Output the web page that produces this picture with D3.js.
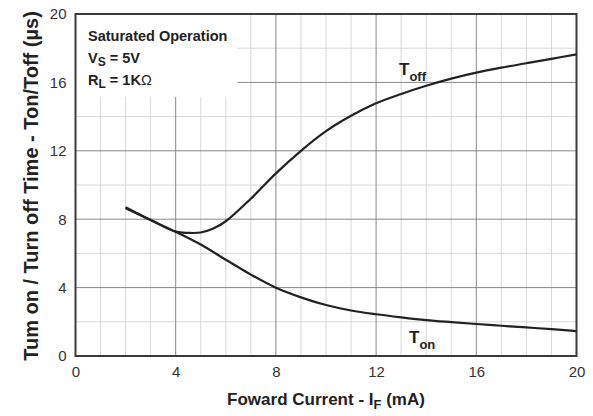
<!DOCTYPE html>
<html><head><meta charset="utf-8">
<script src="https://cdn.jsdelivr.net/npm/d3@7"></script>
<style>body{margin:0;background:#fff}svg{display:block;font-family:"Liberation Sans",Arial,sans-serif}</style>
</head><body><svg id="c" width="593" height="416"></svg>
<script>
const xTicks=[0,4,8,12,16,20];
const yTicks=[0,4,8,12,16,20];
const toffX=[2,3,4,4.5,5,5.5,6,7,8,9,10,11,12,13,14,15,16,17,18,19,20];
const toffY=[8.7,7.95,7.27,7.2,7.22,7.45,7.88,9.2,10.68,12.0,13.15,14.05,14.78,15.32,15.8,16.22,16.57,16.86,17.12,17.38,17.64];
const tonX=[2,3,4,5,6,7,8,9,10,11,12,13,14,15,16,17,18,19,20];
const tonY=[8.64,7.95,7.27,6.52,5.63,4.76,3.99,3.43,2.98,2.66,2.44,2.26,2.1,1.98,1.87,1.77,1.67,1.57,1.46];

const svg=d3.select("#c");
const L=75.5,R=576.5,T=14,B=356;
const x=d3.scaleLinear().domain([0,20]).range([L,R]);
const y=d3.scaleLinear().domain([0,20]).range([B,T]);
const g=svg.append("g");
// minor grid
g.append("g").selectAll("line").data(d3.range(1,20).filter(v=>v%4)).join("line")
 .attr("x1",d=>x(d)).attr("x2",d=>x(d)).attr("y1",T).attr("y2",B).attr("stroke","#d8d8d8").attr("stroke-width",1);
g.append("g").selectAll("line").data([2,6,10,14,18]).join("line")
 .attr("y1",d=>y(d)).attr("y2",d=>y(d)).attr("x1",L).attr("x2",R).attr("stroke","#d8d8d8").attr("stroke-width",1);
// major grid
g.append("g").selectAll("line").data(xTicks.slice(1,-1)).join("line")
 .attr("x1",d=>x(d)).attr("x2",d=>x(d)).attr("y1",T).attr("y2",B).attr("stroke","#888").attr("stroke-width",1);
g.append("g").selectAll("line").data(yTicks.slice(1,-1)).join("line")
 .attr("y1",d=>y(d)).attr("y2",d=>y(d)).attr("x1",L).attr("x2",R).attr("stroke","#888").attr("stroke-width",1);
// annotation box background
svg.append("rect").attr("x",L).attr("y",T).attr("width",162).attr("height",83).attr("fill","#fff");
// frame
svg.append("rect").attr("x",L).attr("y",T).attr("width",R-L).attr("height",B-T).attr("fill","none").attr("stroke","#3a3a3a").attr("stroke-width",2);
// axes tick labels
const xa=d3.axisBottom(x).tickValues(xTicks).tickSize(0).tickPadding(10);
const xg=svg.append("g").attr("transform",`translate(0,${B})`).call(xa);
const ya=d3.axisLeft(y).tickValues(yTicks).tickSize(0).tickPadding(9);
const yg=svg.append("g").attr("transform",`translate(${L},0)`).call(ya);
[xg,yg].forEach(a=>{a.select(".domain").remove();a.selectAll("text").attr("font-size",15).attr("fill","#333").attr("font-family","Liberation Sans, Arial, sans-serif");});
// curves
const line=d3.line().x(d=>x(d[0])).y(d=>y(d[1])).curve(d3.curveCatmullRom.alpha(0.5));
svg.append("path").attr("d",line(toffX.map((v,i)=>[v,toffY[i]]))).attr("fill","none").attr("stroke","#222").attr("stroke-width",2.2);
svg.append("path").attr("d",line(tonX.map((v,i)=>[v,tonY[i]]))).attr("fill","none").attr("stroke","#222").attr("stroke-width",2.2);
// curve labels
const t1=svg.append("text").attr("x",399).attr("y",75).attr("font-size",17).attr("font-weight","bold").attr("fill","#222");
t1.append("tspan").text("T");t1.append("tspan").attr("dy",6).attr("font-size",13).text("off");
const t2=svg.append("text").attr("x",409).attr("y",343).attr("font-size",17).attr("font-weight","bold").attr("fill","#222");
t2.append("tspan").text("T");t2.append("tspan").attr("dy",6).attr("font-size",13).text("on");
// annotation
const fs=14.5, fsSub=12;
svg.append("text").attr("x",88).attr("y",41).attr("font-size",fs).attr("font-weight","bold").attr("fill","#222").text("Saturated Operation");
const a2=svg.append("text").attr("x",88).attr("y",63).attr("font-size",fs).attr("font-weight","bold").attr("fill","#222");
a2.append("tspan").text("V");a2.append("tspan").attr("dy",3).attr("font-size",fsSub).text("S");a2.append("tspan").attr("dy",-3).text(" = 5V");
const a3=svg.append("text").attr("x",88).attr("y",85).attr("font-size",fs).attr("font-weight","bold").attr("fill","#222");
a3.append("tspan").text("R");a3.append("tspan").attr("dy",3).attr("font-size",fsSub).text("L");a3.append("tspan").attr("dy",-3).text(" = 1K");a3.append("tspan").attr("font-weight","normal").text("Ω");
// axis titles
const xt=svg.append("text").attr("x",(L+R)/2).attr("y",405).attr("text-anchor","middle").attr("font-size",17).attr("font-weight","bold").attr("fill","#222");
xt.append("tspan").text("Foward Current - I");xt.append("tspan").attr("dy",4).attr("font-size",13).text("F");xt.append("tspan").attr("dy",-4).text(" (mA)");
svg.append("text").attr("transform","translate(38,186) rotate(-90)").attr("text-anchor","middle").attr("font-size",20).attr("font-weight","bold").attr("fill","#222").text("Tum on / Turn off Time - Ton/Toff (µs)");
</script></body></html>
